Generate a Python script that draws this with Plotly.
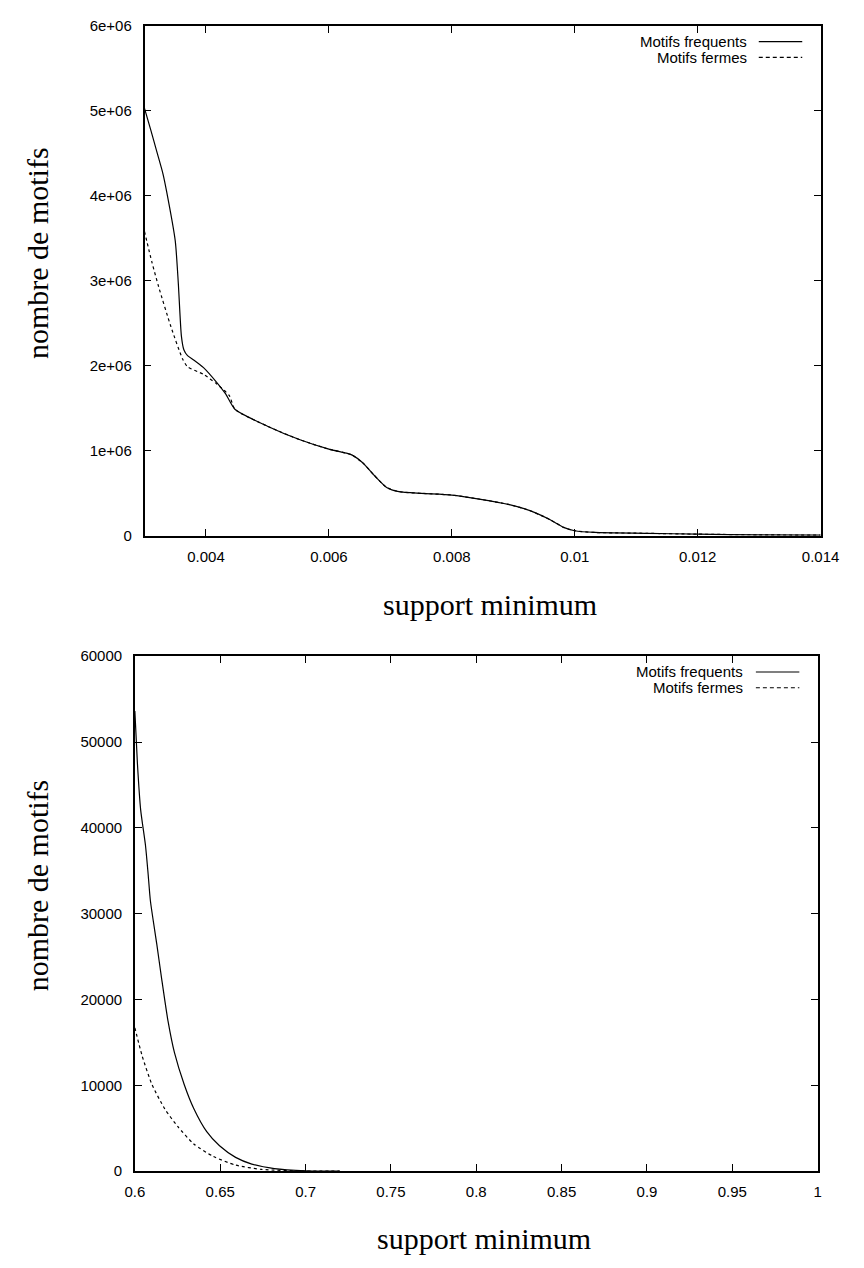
import plotly.graph_objects as go

# page is 864x1268; the html body has an 8px default margin, so the figure is 16px smaller
PAGE_W, PAGE_H = 864, 1268
BODY_MARGIN = 8
W, H = PAGE_W - 2 * BODY_MARGIN, PAGE_H - 2 * BODY_MARGIN

# ---------------- data: top chart ----------------
top_freq_x = [0.003, 0.0031, 0.0032, 0.0033, 0.00336, 0.0035, 0.00355, 0.0036, 0.00364, 0.0037,
              0.0038, 0.00396, 0.00417, 0.00432, 0.00447, 0.0050, 0.00553, 0.0060, 0.0063, 0.00638,
              0.00655, 0.00674, 0.00694, 0.00714, 0.00751, 0.0080, 0.00847, 0.00892, 0.00926, 0.0096,
              0.00982, 0.0100, 0.01033, 0.01118, 0.0120, 0.0130, 0.0140]
top_freq_y = [5.03e6, 4.78e6, 4.52e6, 4.26e6, 4.05e6, 3.47e6, 2.97e6, 2.35e6, 2.19e6, 2.12e6,
              2.07e6, 1.98e6, 1.81e6, 1.67e6, 1.49e6, 1.29e6, 1.13e6, 1.02e6, 0.97e6, 0.95e6,
              0.86e6, 0.71e6, 0.57e6, 0.52e6, 0.50e6, 0.48e6, 0.43e6, 0.37e6, 0.30e6, 0.19e6,
              0.10e6, 0.06e6, 0.04e6, 0.03e6, 0.02e6, 0.012e6, 0.008e6]
top_closed_x = [0.003, 0.00312, 0.00323, 0.00343, 0.00362, 0.0037, 0.00396, 0.00417, 0.00438, 0.00447,
                0.0050, 0.00553, 0.0060, 0.0063, 0.00638, 0.00655, 0.00674, 0.00694, 0.00714, 0.00751,
                0.0080, 0.00847, 0.00892, 0.00926, 0.0096, 0.00982, 0.0100, 0.01033, 0.01118, 0.0120,
                0.0130, 0.0140]
top_closed_y = [3.58e6, 3.22e6, 2.93e6, 2.46e6, 2.08e6, 1.99e6, 1.90e6, 1.79e6, 1.65e6, 1.49e6,
                1.29e6, 1.13e6, 1.02e6, 0.97e6, 0.95e6, 0.86e6, 0.71e6, 0.57e6, 0.52e6, 0.50e6,
                0.48e6, 0.43e6, 0.37e6, 0.30e6, 0.19e6, 0.10e6, 0.06e6, 0.04e6, 0.03e6, 0.02e6,
                0.012e6, 0.008e6]
top_xticks = [0.004, 0.006, 0.008, 0.010, 0.012, 0.014]
top_xticklabels = ["0.004", "0.006", "0.008", "0.01", "0.012", "0.014"]
top_yticks = [0, 1e6, 2e6, 3e6, 4e6, 5e6, 6e6]
top_yticklabels = ["0", "1e+06", "2e+06", "3e+06", "4e+06", "5e+06", "6e+06"]

# ---------------- data: bottom chart ----------------
bot_freq_x = [0.6, 0.6015, 0.6034, 0.6062, 0.6077, 0.6091, 0.6128, 0.6157, 0.6194, 0.6232,
              0.6289, 0.6345, 0.6421, 0.6496, 0.659, 0.6685, 0.6817, 0.70, 0.72]
bot_freq_y = [53600, 47500, 42100, 38000, 34800, 31500, 26500, 22400, 17500, 13800,
              10100, 7300, 4600, 2950, 1600, 820, 290, 40, 0]
bot_closed_x = [0.6, 0.6043, 0.61, 0.6175, 0.6251, 0.6345, 0.6459, 0.659, 0.6742, 0.70, 0.72]
bot_closed_y = [16700, 13400, 10100, 7260, 5200, 3160, 1720, 700, 200, 10, 0]
bot_xticks = [0.6, 0.65, 0.7, 0.75, 0.8, 0.85, 0.9, 0.95, 1.0]
bot_xticklabels = ["0.6", "0.65", "0.7", "0.75", "0.8", "0.85", "0.9", "0.95", "1"]
bot_yticks = [0, 10000, 20000, 30000, 40000, 50000, 60000]
bot_yticklabels = ["0", "10000", "20000", "30000", "40000", "50000", "60000"]

series_names = ["Motifs frequents", "Motifs fermes"]
x_title = "support minimum"
y_title = "nombre de motifs"

TICK_FONT = dict(family="Liberation Sans, Arial, sans-serif", size=15, color="black")
TITLE_FONT = dict(family="Liberation Serif, Times New Roman, serif", size=30, color="black")

LINE_SOLID = dict(color="black", width=1.2, shape="spline", smoothing=0.6)
LINE_DASH = dict(color="black", width=1.2, shape="spline", smoothing=0.6, dash="3px,3px")

fig = go.Figure()
fig.add_trace(go.Scatter(x=top_freq_x, y=top_freq_y, mode="lines", name=series_names[0],
                         line=LINE_SOLID, xaxis="x", yaxis="y", showlegend=False))
fig.add_trace(go.Scatter(x=top_closed_x, y=top_closed_y, mode="lines", name=series_names[1],
                         line=LINE_DASH, xaxis="x", yaxis="y", showlegend=False))
fig.add_trace(go.Scatter(x=bot_freq_x, y=bot_freq_y, mode="lines", name=series_names[0],
                         line=LINE_SOLID, xaxis="x2", yaxis="y2", showlegend=False))
fig.add_trace(go.Scatter(x=bot_closed_x, y=bot_closed_y, mode="lines", name=series_names[1],
                         line=LINE_DASH, xaxis="x2", yaxis="y2", showlegend=False))


def px_x(v):
    return (v - BODY_MARGIN) / W


def px_y(v):
    return 1 - (v - BODY_MARGIN) / H


axis_common = dict(showline=True, linecolor="black", linewidth=1.5, mirror="ticks",
                   ticks="inside", ticklen=7, tickwidth=1, tickcolor="black",
                   showgrid=False, zeroline=False, tickfont=TICK_FONT, tickmode="array")

fig.update_layout(
    width=W, height=H,
    margin=dict(l=0, r=0, t=0, b=0),
    paper_bgcolor="white", plot_bgcolor="white",
    xaxis=dict(domain=[px_x(139), px_x(839)], range=[0.003, 0.014], anchor="y",
               tickvals=top_xticks, ticktext=top_xticklabels, ticklabelstandoff=6, **axis_common),
    yaxis=dict(domain=[px_y(534), px_y(17)], range=[0, 6e6], anchor="x",
               tickvals=top_yticks, ticktext=top_yticklabels, ticklabelstandoff=8, **axis_common),
    xaxis2=dict(domain=[px_x(129), px_x(836)], range=[0.6, 1.0], anchor="y2",
                tickvals=bot_xticks, ticktext=bot_xticklabels, ticklabelstandoff=6, **axis_common),
    yaxis2=dict(domain=[px_y(1178), px_y(656)], range=[0, 60000], anchor="x2",
                tickvals=bot_yticks, ticktext=bot_yticklabels, ticklabelstandoff=8, **axis_common),
)

annotations = []
shapes = []
# axis titles
for xc, yc in [(497, 604), (490, 1246)]:
    annotations.append(dict(text=x_title, x=px_x(xc), y=px_y(yc), xref="paper", yref="paper",
                            xanchor="center", yanchor="middle", showarrow=False, font=TITLE_FONT))
for yc in [247, 888]:
    annotations.append(dict(text=y_title, x=px_x(28), y=px_y(yc), xref="paper", yref="paper",
                            xanchor="center", yanchor="middle", textangle=-90, showarrow=False, font=TITLE_FONT))

# legends (text right-aligned, line sample to the right)
for text_right, line_x0, line_x1, rows in [(765, 775, 820, (33, 49)), (761, 772, 817, (672, 688))]:
    for i, (name, yrow) in enumerate(zip(series_names, rows)):
        annotations.append(dict(text=name, x=px_x(text_right), y=px_y(yrow), xref="paper", yref="paper",
                                xanchor="right", yanchor="middle", showarrow=False, font=TICK_FONT))
        shapes.append(dict(type="line", xref="paper", yref="paper",
                           x0=px_x(line_x0), x1=px_x(line_x1), y0=px_y(yrow), y1=px_y(yrow),
                           line=dict(color="black", width=1.2, dash="solid" if i == 0 else "4px,3px")))

fig.update_layout(annotations=annotations, shapes=shapes)
fig.write_html("out.html")
